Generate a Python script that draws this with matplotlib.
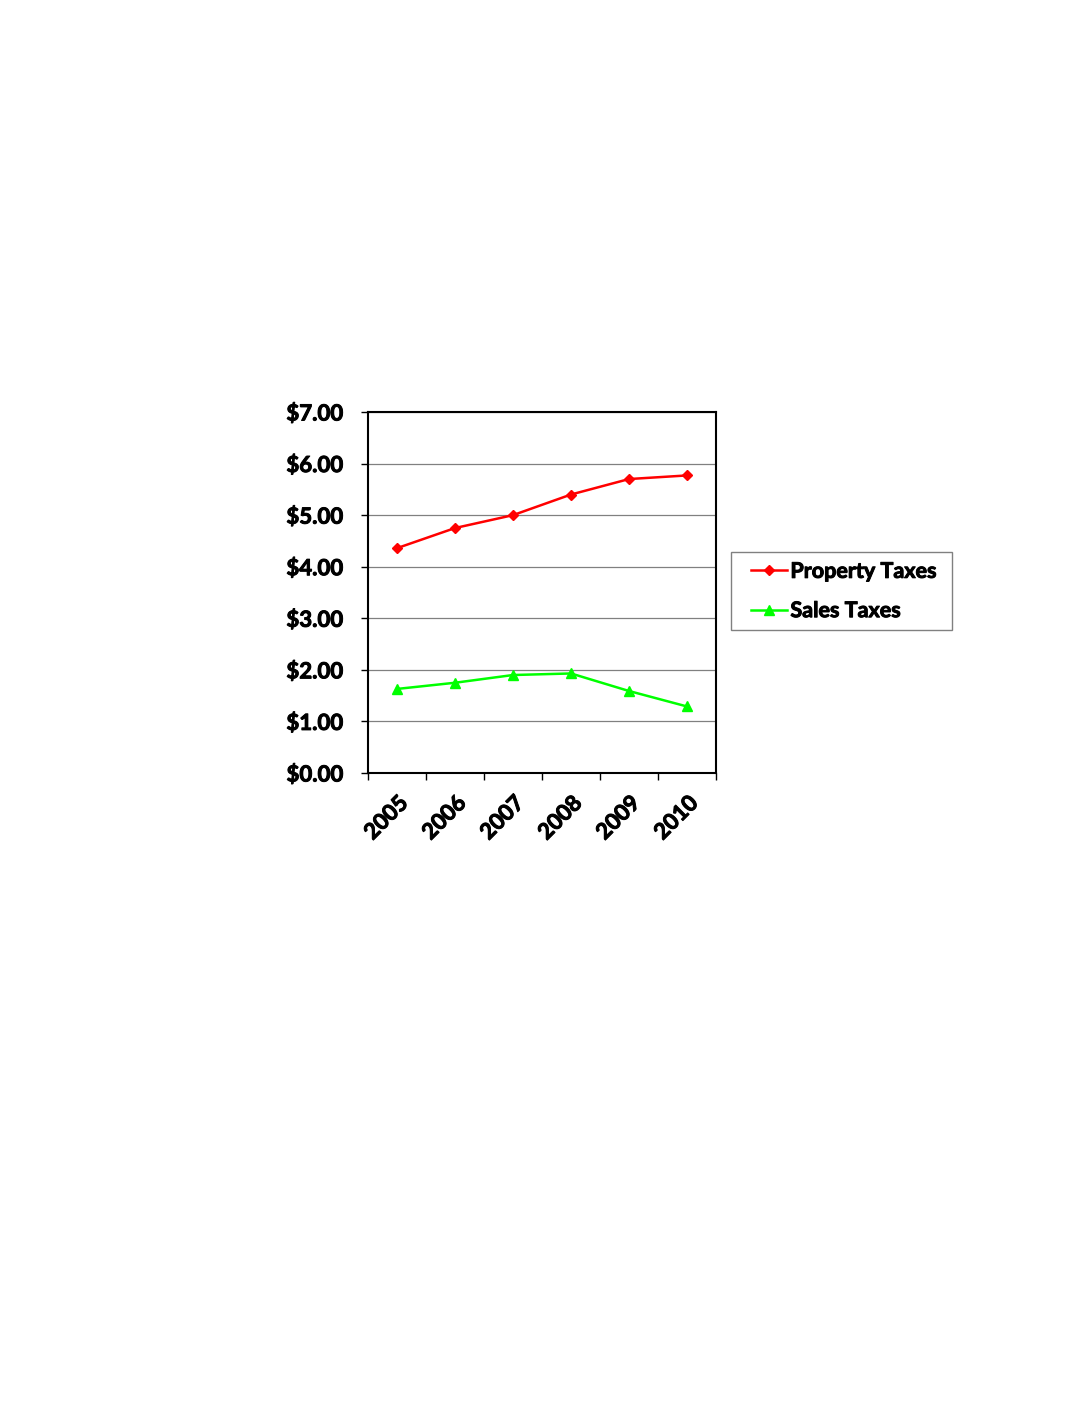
import matplotlib.pyplot as plt
import matplotlib.patheffects as pe
from matplotlib.patches import Rectangle
import numpy as np

# values
years = ["2005", "2006", "2007", "2008", "2009", "2010"]
property_taxes = [4.36, 4.75, 5.00, 5.40, 5.70, 5.77]
sales_taxes = [1.63, 1.75, 1.90, 1.93, 1.59, 1.29]
y_ticks = [0, 1, 2, 3, 4, 5, 6, 7]

plt.rcParams['font.family'] = ['Lato', 'DejaVu Sans']
W = "bold"
thick = [pe.withStroke(linewidth=0.7, foreground="black")]  # heavier looking text

fig = plt.figure(figsize=(10.88, 14.08), dpi=100)
ax = fig.add_axes([368 / 1088, 1 - 773 / 1408, 348 / 1088, 361 / 1408])

x = np.arange(len(years)) + 0.5
ax.plot(x, property_taxes, color="#ff0000", lw=1.8, marker="D", ms=5.5, label="Property Taxes")
ax.plot(x, sales_taxes, color="#00ff00", lw=1.8, marker="^", ms=7, label="Sales Taxes")

ax.set_xlim(0, len(years))
ax.set_ylim(0, 7)

# ticks at category boundaries, labels at centres
ax.set_xticks(np.arange(len(years) + 1))
ax.set_xticklabels([])
ax.set_xticks(x, minor=True)
ax.set_xticklabels(years, minor=True, rotation=45, ha="right", va="top",
                   rotation_mode="anchor", fontsize=16, fontweight=W)
ax.tick_params(axis="x", which="minor", length=0, pad=14)
ax.tick_params(axis="x", which="major", length=5, width=1, direction="out")

ax.set_yticks(y_ticks)
ax.set_yticklabels(["$%.2f" % v for v in y_ticks], fontsize=16, fontweight=W)
ax.tick_params(axis="y", length=5, width=1, direction="out", pad=13)

for t in ax.get_xticklabels(minor=True) + ax.get_yticklabels():
    t.set_path_effects(thick)

ax.grid(axis="y", color="#808080", lw=0.9)
ax.set_axisbelow(True)
for s in ax.spines.values():
    s.set_linewidth(1.5)
    s.set_color("black")

# legend entries without frame, frame drawn separately (wider side padding)
leg = fig.legend(loc="center left", bbox_to_anchor=(751 / 1088, 1 - 591 / 1408),
                 prop={"size": 15.5, "weight": W}, frameon=False,
                 handlelength=1.68, handletextpad=0.15,
                 borderpad=0, labelspacing=0.85, borderaxespad=0)
for t in leg.get_texts():
    t.set_path_effects(thick)
fig.patches.append(Rectangle((731 / 1088, 1 - 630 / 1408), 221 / 1088, 78 / 1408,
                             transform=fig.transFigure, fill=False,
                             edgecolor="#808080", lw=1))

fig.savefig("out.png", dpi=100)
